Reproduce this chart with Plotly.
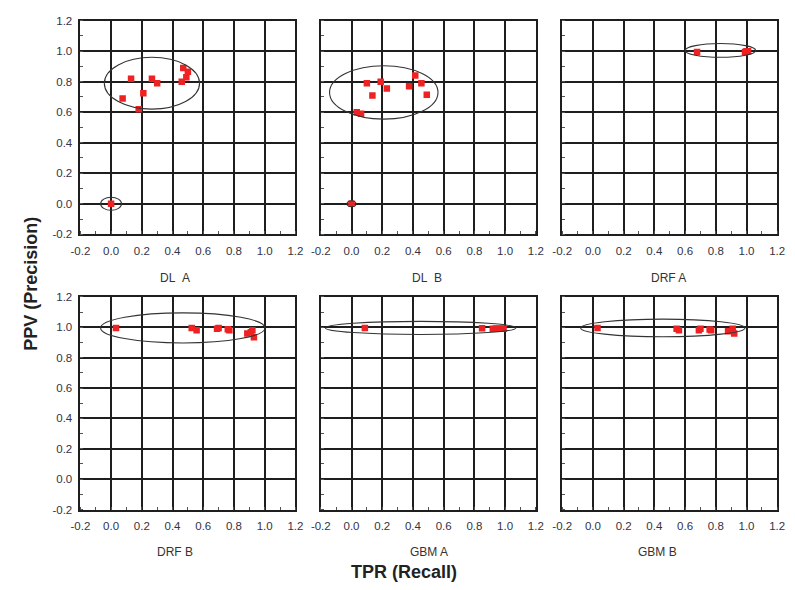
import plotly.graph_objects as go

# ---------------- data ----------------
panel_names = ["DL\u00a0\u00a0A", "DL\u00a0\u00a0B", "DRF A", "DRF B", "GBM A", "GBM B"]

dl_a_tpr = [0.13, 0.266, 0.30, 0.47, 0.50, 0.49, 0.46, 0.21, 0.075, 0.18, 0.0]
dl_a_ppv = [0.82, 0.82, 0.79, 0.89, 0.865, 0.83, 0.80, 0.725, 0.69, 0.62, 0.0]

dl_b_tpr = [0.10, 0.19, 0.23, 0.136, 0.375, 0.415, 0.455, 0.49, 0.034, 0.062, 0.0]
dl_b_ppv = [0.79, 0.80, 0.755, 0.71, 0.77, 0.84, 0.79, 0.715, 0.60, 0.59, 0.0]

drf_a_tpr = [0.678, 0.99, 1.0, 1.01]
drf_a_ppv = [0.995, 0.995, 1.0, 1.0]

drf_b_tpr = [0.032, 0.525, 0.557, 0.69, 0.70, 0.76, 0.77, 0.887, 0.91, 0.92, 0.93]
drf_b_ppv = [0.996, 0.996, 0.98, 0.99, 0.996, 0.987, 0.98, 0.96, 0.967, 0.98, 0.935]

gbm_a_tpr = [0.087, 0.85, 0.92, 0.94, 0.96, 0.98, 0.99]
gbm_a_ppv = [0.996, 0.994, 0.99, 0.993, 0.99, 0.992, 0.99]

gbm_b_tpr = [0.03, 0.545, 0.56, 0.69, 0.70, 0.76, 0.77, 0.88, 0.91, 0.92]
gbm_b_ppv = [0.996, 0.99, 0.98, 0.98, 0.99, 0.985, 0.98, 0.975, 0.99, 0.96]

# confidence ellipses: panel index, centre x, centre y, semi-axis x, semi-axis y
ell_panel = [0, 0, 1, 1, 2, 3, 4, 5]
ell_cx = [0.266, 0.0, 0.21, 0.0, 0.83, 0.467, 0.45, 0.455]
ell_cy = [0.79, 0.0, 0.73, 0.0, 1.005, 0.996, 0.996, 0.996]
ell_rx = [0.31, 0.068, 0.353, 0.03, 0.23, 0.535, 0.62, 0.535]
ell_ry = [0.17, 0.043, 0.175, 0.02, 0.045, 0.099, 0.043, 0.058]

tick_vals = [-0.2, 0.0, 0.2, 0.4, 0.6, 0.8, 1.0, 1.2]
tick_text = ["-0.2", "0.0", "0.2", "0.4", "0.6", "0.8", "1.0", "1.2"]

xs = [dl_a_tpr, dl_b_tpr, drf_a_tpr, drf_b_tpr, gbm_a_tpr, gbm_b_tpr]
ys = [dl_a_ppv, dl_b_ppv, drf_a_ppv, drf_b_ppv, gbm_a_ppv, gbm_b_ppv]

# ---------------- layout geometry ----------------
W, H = 795, 590
col_px = [(72, 292), (318, 538), (565, 785)]
row_px = [(15, 233), (297, 514)]
title_px = [(169, 278), (427, 278), (674, 278), (169, 557), (429, 557), (662, 557)]

fig = go.Figure()
grid_col = "#1e1e1e"
tick_font = dict(family="Liberation Sans, Arial, sans-serif", size=11.5, color="#333344")

for i in range(6):
    r, c = divmod(i, 3)
    suffix = "" if i == 0 else str(i + 1)
    xa = "x" + suffix
    ya = "y" + suffix
    fig.add_trace(go.Scatter(
        x=xs[i], y=ys[i], mode="markers", xaxis=xa, yaxis=ya,
        marker=dict(symbol="square", size=6.5, color="#ee2222", line=dict(width=0)),
        showlegend=False, hoverinfo="x+y"))
    common = dict(
        range=[-0.2, 1.2], tickvals=tick_vals, ticktext=tick_text,
        showgrid=True, gridcolor=grid_col, gridwidth=1.6,
        zeroline=False, showline=True, linecolor=grid_col, linewidth=1.6,
        mirror=True, ticks="", tickfont=tick_font, fixedrange=True,
        minor=dict(ticks="inside", ticklen=3, tickwidth=1, tickcolor="#555555",
                   dtick=0.1, tick0=0.0, showgrid=False),
    )
    x0, x1 = col_px[c]
    y0, y1 = row_px[r]
    fig.layout["xaxis" + suffix] = dict(
        common, domain=[x0 / W, x1 / W], anchor=ya, ticklabelstandoff=5)
    fig.layout["yaxis" + suffix] = dict(
        common, domain=[1 - y1 / H, 1 - y0 / H], anchor=xa,
        showticklabels=(c == 0), ticklabelstandoff=4)
    tx, ty = title_px[i]
    fig.add_annotation(
        text=panel_names[i], x=tx / W, y=1 - ty / H, xref="paper", yref="paper",
        showarrow=False, xanchor="center", yanchor="middle",
        font=dict(family="Liberation Sans, Arial, sans-serif", size=12, color="#333333"))

for k in range(len(ell_panel)):
    i = ell_panel[k]
    suffix = "" if i == 0 else str(i + 1)
    fig.add_shape(
        type="circle", xref="x" + suffix, yref="y" + suffix,
        x0=ell_cx[k] - ell_rx[k], x1=ell_cx[k] + ell_rx[k],
        y0=ell_cy[k] - ell_ry[k], y1=ell_cy[k] + ell_ry[k],
        line=dict(color="#333333", width=1.1), layer="above")

fig.add_annotation(
    text="<b>TPR (Recall)</b>", x=403 / W, y=1 - 578 / H, xref="paper", yref="paper",
    showarrow=False, xanchor="center", yanchor="middle",
    font=dict(family="Liberation Sans, Arial, sans-serif", size=18, color="#222222"))
fig.add_annotation(
    text="<b>PPV (Precision)</b>", x=22 / W, y=1 - 284 / H, xref="paper", yref="paper",
    showarrow=False, xanchor="center", yanchor="middle", textangle=-90,
    font=dict(family="Liberation Sans, Arial, sans-serif", size=18, color="#222222"))

fig.update_layout(
    width=W, height=H, margin=dict(l=0, r=0, t=0, b=0),
    paper_bgcolor="white", plot_bgcolor="white", showlegend=False)

fig.write_html("out.html")
